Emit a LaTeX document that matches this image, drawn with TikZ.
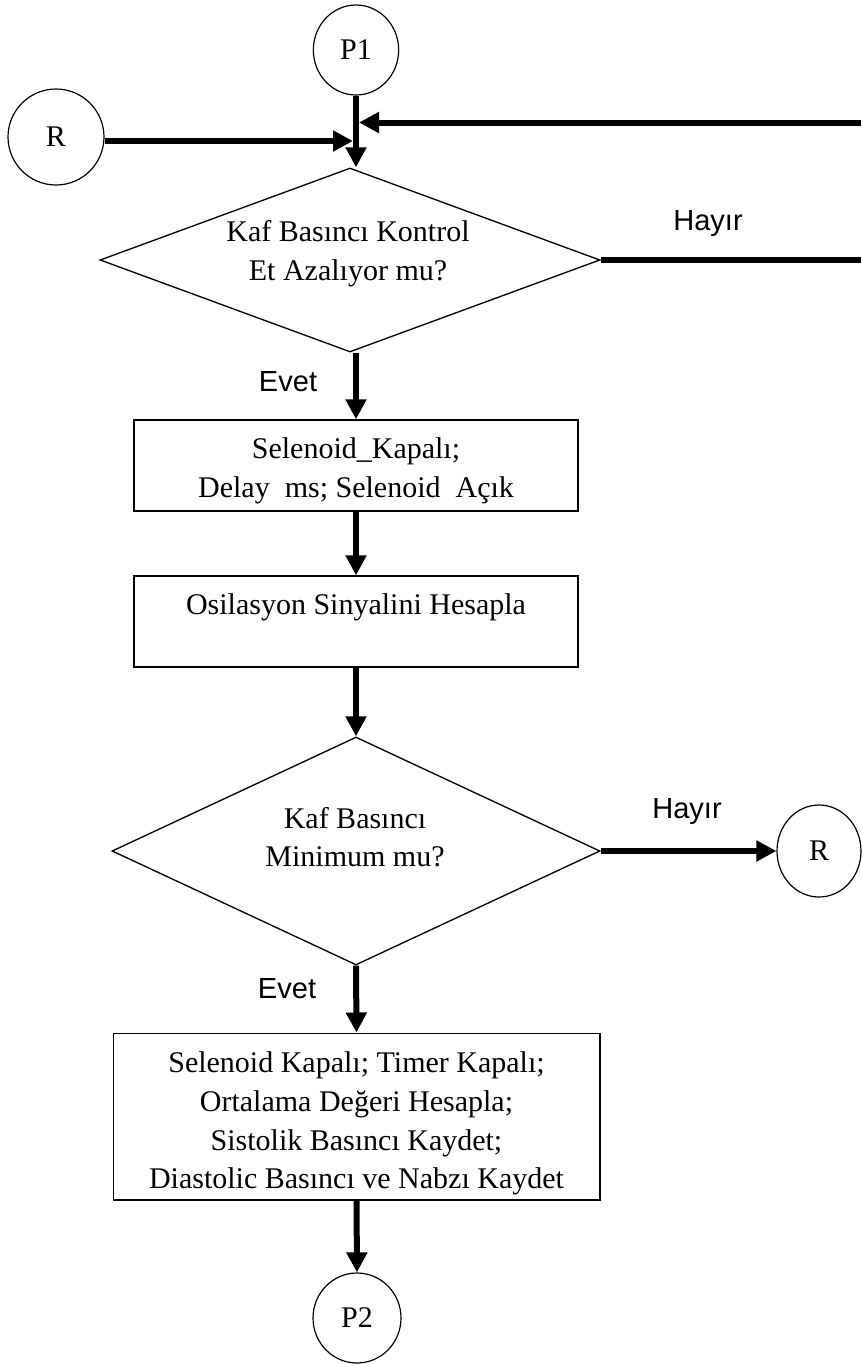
\documentclass[tikz,border=0pt]{standalone}
\usepackage{fontspec}
\setmainfont{Liberation Serif}
\newfontfamily\labelfont{Liberation Sans}
\usetikzlibrary{arrows.meta,shapes.geometric,calc}

\begin{document}
\begin{tikzpicture}[x=0.75pt,y=-0.75pt,
  every node/.style={inner sep=0pt},
  term/.style={draw, ellipse, line width=0.9pt, font=\fontsize{22.5}{26}\selectfont},
  proc/.style={draw, rectangle, line width=1pt},
  cond/.style={draw, diamond, line width=1pt},
  bodytext/.style={align=center, font=\fontsize{22.5}{29}\selectfont},
  flow/.style={line width=4.5pt, -{Triangle[length=15pt,width=15pt]}},
  flowline/.style={line width=4.5pt},
  answer/.style={font=\labelfont\fontsize{21.8}{24}\selectfont}]
\useasboundingbox (0,0) rectangle (861,1364);

% connector nodes
\node[term, minimum width=64pt, minimum height=67.5pt] (P1) at (356,50) {P1};
\node[term, minimum width=72pt, minimum height=72pt] (RL) at (56,137) {R};
\node[term, minimum width=63pt, minimum height=69pt] (RR) at (819,851) {R};
\node[term, minimum width=66pt, minimum height=67.5pt] (P2) at (357,1318) {P2};

% decisions
\node[cond, minimum width=375pt, minimum height=138pt] (D1) at (350,260) {};
\node[bodytext] (D1t) at (348,254) {Kaf Basıncı Kontrol\\Et Azalıyor mu?};
\node[cond, minimum width=366pt, minimum height=171pt] (D2) at (356,851) {};
\node[bodytext] (D2t) at (355,837) {Kaf Basıncı\\Minimum mu?};

% process boxes
\node[proc, minimum width=333pt, minimum height=68.25pt] (B1) at (356,465.5) {};
\node[bodytext] (B1t) at (356,470.5) {Selenoid\_Kapalı;\\Delay\ \ ms; Selenoid\ \ Açık};
\node[proc, minimum width=333pt, minimum height=68.25pt] (B2) at (356,621.5) {};
\node[bodytext] (B2t) at (356,623.5) {Osilasyon Sinyalini Hesapla\\\mbox{}};
\node[proc, minimum width=365pt, minimum height=125pt] (B3) at (356.5,1116.5) {};
\node[bodytext] (B3t) at (356.5,1123.5)
  {Selenoid Kapalı; Timer Kapalı;\\Ortalama Değeri Hesapla;\\Sistolik Basıncı Kaydet;\\Diastolic Basıncı ve Nabzı Kaydet};

% junction above the first decision
\coordinate (Rin) at (353,141);
\coordinate (Lin) at (359,122.5);
\coordinate (EdgeIn) at (861,122.5);
\coordinate (EdgeOut) at (861,260);

\draw[flow] (P1.south) -- (P1.south |- D1.north);
\draw[flow] (RL.east |- Rin) -- (Rin);
\draw[flow] (EdgeIn) -- (Lin);
\draw[flowline] (D1.east) -- (EdgeOut);
\node[answer] (H1) at (708,224) {Hayır};

\draw[flow] (B1.north |- D1.south) -- (B1.north);
\node[answer] (E1) at (288,382) {Evet};
\draw[flow] (B1.south) -- (B2.north);
\draw[flow] (B2.south) -- (D2.north);
\draw[flow] (D2.east) -- (RR.west);
\node[answer] (H2) at (687,812) {Hayır};
\draw[flow] (D2.south) -- (B3.north);
\node[answer] (E2) at (287,989) {Evet};
\draw[flow] (B3.south) -- (P2.north);
\end{tikzpicture}
\end{document}
